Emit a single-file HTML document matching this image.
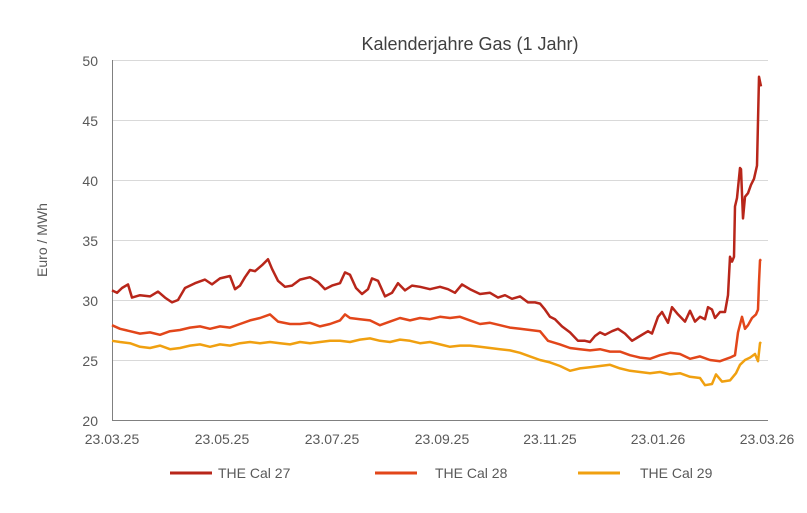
<!DOCTYPE html>
<html><head><meta charset="utf-8"><style>
body{margin:0;background:#fff;}
svg{display:block;font-family:"Liberation Sans",sans-serif;}
</style></head><body>
<svg id="s" width="807" height="513" viewBox="0 0 807 513">
<text x="470" y="50" font-size="18" fill="#404040" text-anchor="middle">Kalenderjahre Gas (1 Jahr)</text>
<g stroke="#d9d9d9" stroke-width="1">
<line x1="112" x2="768" y1="60.5" y2="60.5"/><line x1="112" x2="768" y1="120.5" y2="120.5"/>
<line x1="112" x2="768" y1="180.5" y2="180.5"/><line x1="112" x2="768" y1="240.5" y2="240.5"/>
<line x1="112" x2="768" y1="300.5" y2="300.5"/><line x1="112" x2="768" y1="360.5" y2="360.5"/>
</g>
<line x1="112.5" x2="112.5" y1="60" y2="420" stroke="#808080"/>
<line x1="112" x2="768" y1="420.5" y2="420.5" stroke="#808080"/>
<g font-size="14" fill="#595959" text-anchor="end">
<text x="98" y="66">50</text><text x="98" y="126">45</text><text x="98" y="186">40</text>
<text x="98" y="246">35</text><text x="98" y="306">30</text><text x="98" y="366">25</text><text x="98" y="426">20</text>
</g>
<g font-size="14" fill="#595959" text-anchor="middle">
<text x="112" y="444">23.03.25</text><text x="222" y="444">23.05.25</text><text x="332" y="444">23.07.25</text>
<text x="442" y="444">23.09.25</text><text x="550" y="444">23.11.25</text><text x="658" y="444">23.01.26</text><text x="767" y="444">23.03.26</text>
</g>
<text transform="translate(47,240) rotate(-90)" font-size="14" fill="#595959" text-anchor="middle">Euro / MWh</text>
<polyline id="p29" fill="none" stroke="#f0a010" stroke-width="2.5" stroke-linejoin="round"/>
<polyline id="p28" fill="none" stroke="#e2461a" stroke-width="2.5" stroke-linejoin="round"/>
<polyline id="p27" fill="none" stroke="#b8261a" stroke-width="2.5" stroke-linejoin="round"/>
<line x1="170" x2="212" y1="473" y2="473" stroke="#b8261a" stroke-width="3"/>
<text x="218" y="478" font-size="14" fill="#595959">THE Cal 27</text>
<line x1="375" x2="417" y1="473" y2="473" stroke="#e2461a" stroke-width="3"/>
<text x="435" y="478" font-size="14" fill="#595959">THE Cal 28</text>
<line x1="578" x2="620" y1="473" y2="473" stroke="#f0a010" stroke-width="3"/>
<text x="640" y="478" font-size="14" fill="#595959">THE Cal 29</text>
</svg>
<script>
function Y(v){return 420-(v-20)*12;}
function pts(a){var o=[];for(var i=0;i<a.length;i+=2)o.push(a[i]+","+Y(a[i+1]).toFixed(1));return o.join(" ");}
var c27=[112,30.8,117,30.6,122,31.0,128,31.3,132,30.2,140,30.4,150,30.3,158,30.7,165,30.2,172,29.8,178,30,185,31.0,195,31.4,205,31.7,212,31.3,220,31.8,230,32.0,235,30.9,240,31.2,245,31.9,250,32.5,255,32.4,262,32.9,268,33.4,272,32.6,278,31.6,285,31.1,292,31.2,300,31.7,310,31.9,318,31.5,325,30.9,332,31.2,340,31.4,345,32.3,350,32.1,356,31.0,362,30.5,368,30.9,372,31.8,378,31.6,385,30.3,392,30.6,398,31.4,405,30.8,412,31.2,420,31.1,430,30.9,440,31.1,448,30.9,455,30.6,462,31.3,470,30.9,480,30.5,490,30.6,498,30.2,505,30.4,512,30.1,520,30.3,528,29.8,535,29.8,540,29.7,545,29.2,550,28.6,555,28.4,562,27.8,570,27.3,578,26.6,585,26.6,590,26.5,595,27.0,600,27.3,605,27.1,612,27.4,618,27.6,625,27.2,632,26.6,640,27.0,648,27.4,652,27.2,658,28.6,662,29.0,668,28.1,672,29.4,678,28.8,685,28.2,690,29.1,695,28.2,700,28.6,705,28.4,708,29.4,712,29.2,715,28.5,720,29.0,725,29.0,728,30.4,730,33.6,732,33.2,734,33.6,735,37.8,737,38.5,740,41.0,741,40.9,743,36.8,745,38.6,748,38.9,751,39.6,754,40.1,757,41.2,759,48.6,760,48.2,761,47.8];
var c28=[112,27.9,120,27.6,130,27.4,140,27.2,150,27.3,160,27.1,170,27.4,180,27.5,190,27.7,200,27.8,210,27.6,220,27.8,230,27.7,240,28.0,250,28.3,260,28.5,270,28.8,278,28.2,290,28.0,300,28.0,310,28.1,320,27.8,330,28.0,340,28.3,345,28.8,350,28.5,360,28.4,370,28.3,380,27.9,390,28.2,400,28.5,410,28.3,420,28.5,430,28.4,440,28.6,450,28.5,460,28.6,470,28.3,480,28.0,490,28.1,500,27.9,510,27.7,520,27.6,530,27.5,540,27.4,548,26.6,560,26.3,570,26.0,580,25.9,590,25.8,600,25.9,610,25.7,620,25.7,630,25.4,640,25.2,650,25.1,660,25.4,670,25.6,680,25.5,690,25.1,700,25.3,710,25.0,720,24.9,730,25.2,735,25.4,738,27.3,742,28.6,745,27.6,748,27.9,752,28.5,756,28.8,758,29.2,759,31.5,760,33.3,761,33.4];
var c29=[112,26.6,120,26.5,130,26.4,140,26.1,150,26.0,160,26.2,170,25.9,180,26.0,190,26.2,200,26.3,210,26.1,220,26.3,230,26.2,240,26.4,250,26.5,260,26.4,270,26.5,280,26.4,290,26.3,300,26.5,310,26.4,320,26.5,330,26.6,340,26.6,350,26.5,360,26.7,370,26.8,380,26.6,390,26.5,400,26.7,410,26.6,420,26.4,430,26.5,440,26.3,450,26.1,460,26.2,470,26.2,480,26.1,490,26.0,500,25.9,510,25.8,520,25.6,530,25.3,540,25.0,550,24.8,560,24.5,570,24.1,580,24.3,590,24.4,600,24.5,610,24.6,620,24.3,630,24.1,640,24.0,650,23.9,660,24.0,670,23.8,680,23.9,690,23.6,700,23.5,705,22.9,712,23.0,716,23.8,722,23.2,730,23.3,736,23.9,740,24.6,745,25.0,750,25.2,755,25.5,758,24.9,760,26.4,761,26.5];
document.getElementById("p27").setAttribute("points",pts(c27));
document.getElementById("p28").setAttribute("points",pts(c28));
document.getElementById("p29").setAttribute("points",pts(c29));
</script>
</body></html>
